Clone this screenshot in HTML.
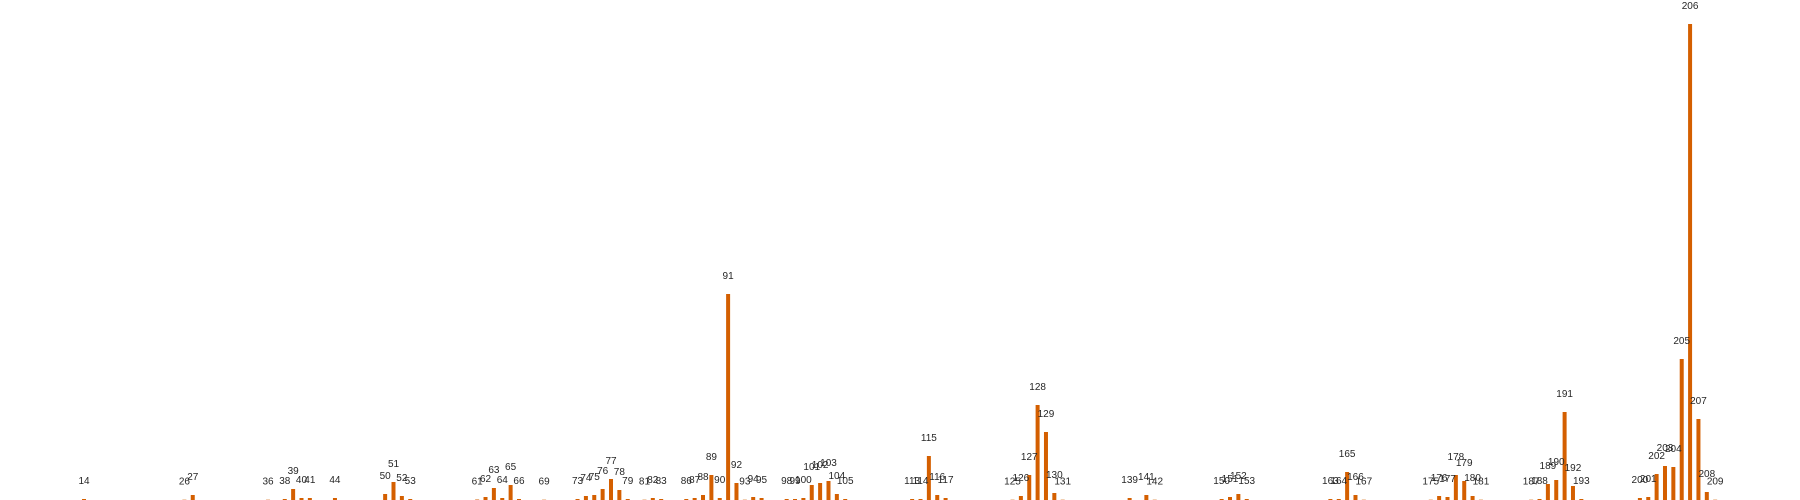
<!DOCTYPE html>
<html><head><meta charset="utf-8"><style>
html,body{margin:0;padding:0;background:#fff;}
svg{display:block;}
text{font-family:"Liberation Sans",sans-serif;font-size:10px;fill:#262626;}
</style></head><body>
<svg id="chart" width="1800" height="500" viewBox="0 0 1800 500">
<g id="bars"></g>
<g id="labels"></g>
</svg>
<script>
const categories = [14,26,27,36,38,39,40,41,44,50,51,52,53,61,62,63,64,65,66,69,73,74,75,76,77,78,79,81,82,83,86,87,88,89,90,91,92,93,94,95,98,99,100,101,102,103,104,105,113,114,115,116,117,125,126,127,128,129,130,131,139,141,142,150,151,152,153,163,164,165,166,167,175,176,177,178,179,180,181,187,188,189,190,191,192,193,200,201,202,203,204,205,206,207,208,209];
const values = [1,0.3,5,0.3,1,11,2,2,2,6,18,4,1,0.5,3,12,2,15,1,0.3,1,4,5,11,21,10,1,0.3,2,1,1,2,5,25,2,206,17,0.3,3,2,1,1,2,15,17,19,6,1,1,1,44,5,2,0.3,4,25,95,68,7,0.3,2,5,0.3,1,3,6,1,1,1,28,5,0.3,0.3,4,3,25,19,4,0.3,0.3,1,16,20,88,14,1,2,3,26,34,33,141,476,81,8,0.3];
const labelTexts = categories.map(String);

const X0 = 84, STEP = 8.365, BASE = 500, TOP = 24, YMAX = 476;
function xScale(c){ return X0 + (c - 14) * STEP; }
function yScale(v){ return BASE - v / YMAX * (BASE - TOP); }

const NS = "http://www.w3.org/2000/svg";
const gb = document.getElementById('bars');
const gl = document.getElementById('labels');
categories.forEach((c, i) => {
  const v = values[i];
  const x = xScale(c), y = yScale(v);
  const r = document.createElementNS(NS, 'rect');
  r.setAttribute('x', (x - 2).toFixed(2));
  r.setAttribute('y', y.toFixed(2));
  r.setAttribute('width', 4);
  r.setAttribute('height', Math.max(0, BASE - y).toFixed(2));
  r.setAttribute('fill', '#d45f00');
  
  
  gb.appendChild(r);
  const t = document.createElementNS(NS, 'text');
  t.setAttribute('x', x.toFixed(2));
  t.setAttribute('y', (y - 15).toFixed(2));
  t.setAttribute('text-anchor', 'middle');
  t.textContent = labelTexts[i];
  
  
  gl.appendChild(t);
});
</script>
</body></html>
